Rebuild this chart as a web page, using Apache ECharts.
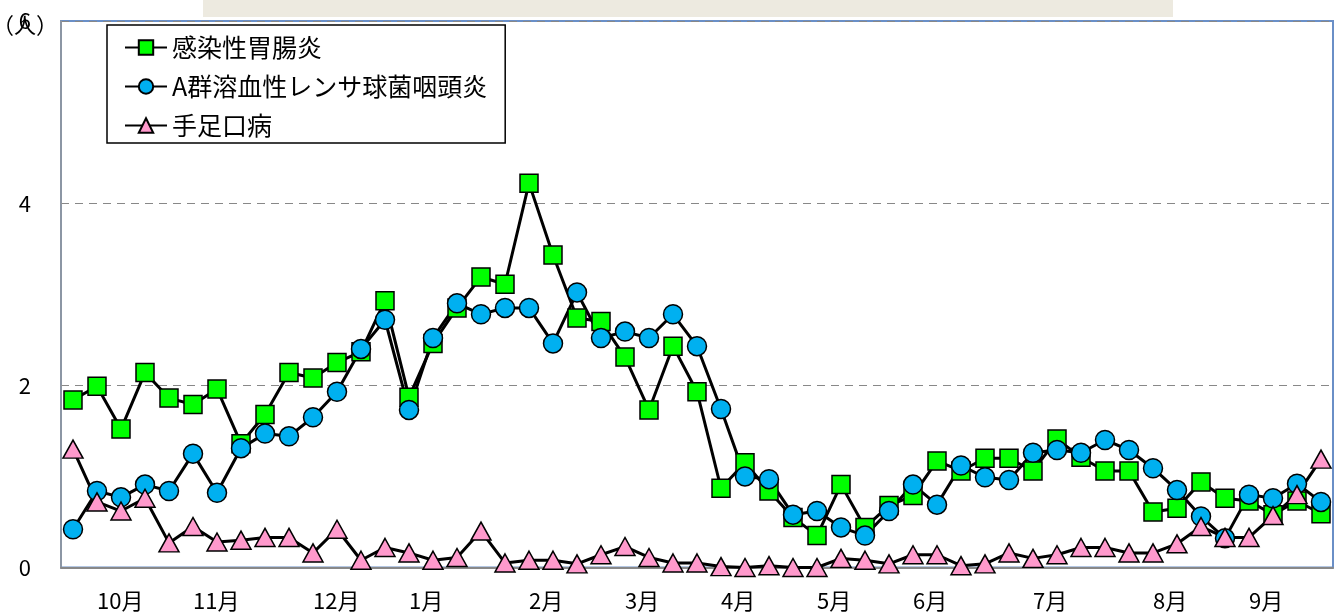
<!DOCTYPE html>
<html>
<head>
<meta charset="utf-8">
<script src="https://cdn.jsdelivr.net/npm/echarts@6/dist/echarts.min.js"></script>
<style>
  html, body { margin: 0; padding: 0; background: #fff; }
  #chart { width: 1336px; height: 615px; }
</style>
</head>
<body>
<div id="chart"></div>
<script>
// weekly rows, month name on the first week of each month
var weekLabels = ['', '10月', '', '', '', '11月', '', '', '', '', '12月', '', '', '', '1月', '', '', '', '',
  '2月', '', '', '', '3月', '', '', '', '4月', '', '', '', '5月', '', '', '', '6月', '', '', '', '',
  '7月', '', '', '', '', '8月', '', '', '', '9月', '', '', ''];

var gastro = [1.84, 1.99, 1.52, 2.14, 1.86, 1.79, 1.96, 1.36, 1.68, 2.14, 2.08, 2.25, 2.37, 2.93, 1.87,
  2.46, 2.85, 3.19, 3.11, 4.22, 3.43, 2.74, 2.70, 2.31, 1.73, 2.43, 1.93, 0.87, 1.15, 0.84, 0.55,
  0.35, 0.91, 0.44, 0.68, 0.79, 1.17, 1.06, 1.20, 1.20, 1.06, 1.41, 1.21, 1.06, 1.06, 0.61, 0.65,
  0.94, 0.76, 0.73, 0.58, 0.73, 0.59];

var strep = [0.42, 0.84, 0.77, 0.91, 0.84, 1.25, 0.82, 1.31, 1.47, 1.44, 1.65, 1.93, 2.40, 2.72, 1.73,
  2.52, 2.90, 2.78, 2.85, 2.85, 2.46, 3.02, 2.52, 2.59, 2.52, 2.78, 2.43, 1.74, 1.00, 0.97, 0.58,
  0.62, 0.44, 0.35, 0.62, 0.91, 0.69, 1.12, 0.99, 0.96, 1.26, 1.29, 1.26, 1.40, 1.29, 1.09, 0.85,
  0.56, 0.32, 0.80, 0.76, 0.92, 0.72];

var hfmd = [1.30, 0.72, 0.62, 0.76, 0.27, 0.45, 0.28, 0.30, 0.33, 0.33, 0.16, 0.42, 0.08, 0.22, 0.16,
  0.08, 0.11, 0.40, 0.05, 0.08, 0.08, 0.04, 0.14, 0.23, 0.11, 0.05, 0.05, 0.01, 0, 0.02, 0,
  0, 0.10, 0.08, 0.04, 0.14, 0.14, 0.02, 0.04, 0.16, 0.10, 0.14, 0.22, 0.22, 0.16, 0.16, 0.26,
  0.45, 0.33, 0.33, 0.57, 0.80, 1.19];

var seriesNames = ['感染性胃腸炎', 'A群溶血性レンサ球菌咽頭炎', '手足口病'];
var yTicks = [0, 2, 4, 6];

var font = '"Noto Sans CJK JP", sans-serif';
var chart = echarts.init(document.getElementById('chart'));

function lineSeries(name, data, symbol, size, color) {
  return {
    name: name,
    type: 'line',
    data: data,
    symbol: symbol,
    symbolSize: size,
    clip: false,
    lineStyle: { color: '#000', width: 3 },
    itemStyle: { color: color, borderColor: '#000', borderWidth: 1.5 },
    emphasis: { disabled: true }
  };
}

chart.setOption({
  animation: false,
  textStyle: { fontFamily: font },
  grid: {
    left: 61, right: 3, top: 21, bottom: 47.5,
    show: true,
    borderColor: '#6A8FC7',
    borderWidth: 2
  },
  graphic: [
    { type: 'rect', left: 203, top: 0, shape: { width: 970, height: 17 }, style: { fill: '#EDEAE0' }, z: -1 },
    // unit label, sits on top of the "6" tick like in the original
    { type: 'text', x: -8, y: 14, style: { text: '（人）', fontSize: 22, fontFamily: font, fill: '#000' }, z: 10 }
  ],
  legend: {
    orient: 'vertical',
    left: 107, top: 25,
    padding: [10, 18, 5, 17],
    itemGap: 14,
    itemWidth: 42,
    itemHeight: 18,
    backgroundColor: '#fff',
    borderColor: '#000',
    borderWidth: 1.5,
    textStyle: { fontSize: 25, color: '#000', fontFamily: font },
    data: seriesNames
  },
  xAxis: {
    type: 'category',
    data: weekLabels,
    boundaryGap: true,
    axisLine: { lineStyle: { color: '#888', width: 2 } },
    axisTick: { show: false },
    axisLabel: { interval: 0, align: 'left', margin: 22, fontSize: 22, color: '#000', fontFamily: font },
    splitLine: { show: false }
  },
  yAxis: {
    type: 'value',
    min: yTicks[0], max: yTicks[yTicks.length - 1], interval: 2,
    axisLine: { show: true, lineStyle: { color: '#999', width: 1.5 } },
    axisTick: { show: false },
    axisLabel: { margin: 30, fontSize: 22, color: '#000', fontFamily: font },
    splitLine: { lineStyle: { color: '#888', type: [8, 6], width: 1.2 } }
  },
  series: [
    lineSeries(seriesNames[0], gastro, 'rect', 18, '#00FF00'),
    lineSeries(seriesNames[1], strep, 'circle', 19, '#00B0F0'),
    lineSeries(seriesNames[2], hfmd, 'triangle', [20, 18], '#FF99CC')
  ]
});
</script>
</body>
</html>
